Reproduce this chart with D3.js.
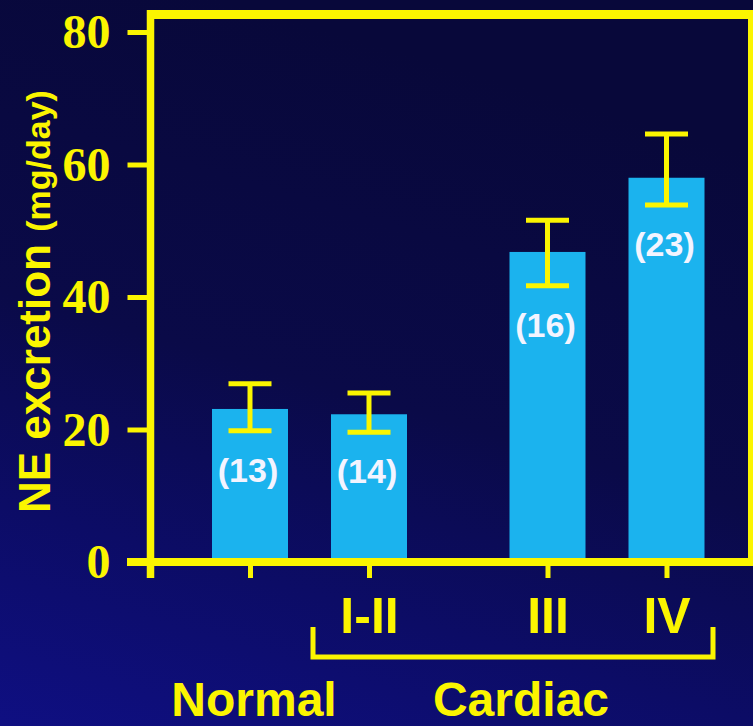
<!DOCTYPE html>
<html>
<head>
<meta charset="utf-8">
<script src="https://cdn.jsdelivr.net/npm/d3@7"></script>
<style>
  html, body { margin: 0; padding: 0; background: #0b0b45; }
  svg { display: block; }
</style>
</head>
<body>
<svg id="chart" width="753" height="726"></svg>
<script>
// Urinary norepinephrine excretion by group (mean with error range, n in brackets)
const categories = ["Normal", "I-II", "III", "IV"];
const tierLabels = ["", "I-II", "III", "IV"];
const groupNames = ["Normal", "Cardiac"];
const means   = [23.1, 22.3, 46.8, 58.0];
const errLow  = [19.8, 19.6, 41.7, 53.9];
const errHigh = [26.9, 25.5, 51.6, 64.6];
const counts  = [13, 14, 16, 23];
const yTicks  = [0, 20, 40, 60, 80];

const YELLOW = "#fbf500";
const BAR = "#1bb3ee";
const SANS = "'Liberation Sans', Arial, sans-serif";
const SERIF = "'Liberation Serif', 'Times New Roman', serif";

const svg = d3.select("#chart");
const W = 753, H = 726;

// backdrop: dark navy, turning a deeper blue toward the lower left
const defs = svg.append("defs");
const grad = defs.append("linearGradient").attr("id", "bg")
  .attr("x1", 0.3).attr("y1", 0).attr("x2", 0).attr("y2", 1);
[[0, "#08083a"], [0.45, "#0a0a48"], [0.72, "#0c0c66"], [1, "#0f0f82"]]
  .forEach(([o, c]) => grad.append("stop").attr("offset", o).attr("stop-color", c));
svg.append("rect").attr("width", W).attr("height", H).attr("fill", "url(#bg)");

// plot box edges
const plotLeft = 150.5, plotRight = 752, plotTop = 14.6, plotBase = 562;
const y = d3.scaleLinear().domain([0, 80]).range([plotBase, 32]);
// Cardiac classes III/IV sit a half slot further right
const slot = i => i + (i >= 2 ? 0.5 : 0);
const x = d3.scaleLinear().domain([0, 3.5]).range([250, 666.5]);
const barW = 76;

const data = categories.map((c, i) => ({
  c, i, mean: means[i], lo: errLow[i], hi: errHigh[i], n: counts[i], tier: tierLabels[i]
}));

// bars
svg.append("g").selectAll("rect").data(data).join("rect")
  .attr("x", d => x(slot(d.i)) - barW / 2)
  .attr("width", barW)
  .attr("y", d => y(d.mean))
  .attr("height", d => y(0) - y(d.mean))
  .attr("fill", BAR);

// error bars
const eg = svg.append("g").attr("stroke", YELLOW).attr("stroke-width", 5);
const capW = 43;
eg.selectAll("line.stem").data(data).join("line").attr("class", "stem")
  .attr("x1", d => x(slot(d.i))).attr("x2", d => x(slot(d.i)))
  .attr("y1", d => y(d.lo)).attr("y2", d => y(d.hi));
eg.selectAll("line.capHi").data(data).join("line").attr("class", "capHi")
  .attr("x1", d => x(slot(d.i)) - capW / 2).attr("x2", d => x(slot(d.i)) + capW / 2)
  .attr("y1", d => y(d.hi)).attr("y2", d => y(d.hi));
eg.selectAll("line.capLo").data(data).join("line").attr("class", "capLo")
  .attr("x1", d => x(slot(d.i)) - capW / 2).attr("x2", d => x(slot(d.i)) + capW / 2)
  .attr("y1", d => y(d.lo)).attr("y2", d => y(d.lo));

// sample sizes inside the bars
svg.append("g").selectAll("text").data(data).join("text")
  .attr("x", d => x(slot(d.i)) - 2)
  .attr("y", d => y(d.lo) + 51)
  .attr("text-anchor", "middle")
  .attr("font-family", SANS).attr("font-weight", "bold").attr("font-size", 34)
  .attr("fill", "#f3f4ff")
  .text(d => `(${d.n})`);

// frame: top and right edges
const frame = svg.append("g").attr("stroke", YELLOW).attr("fill", "none");
frame.append("line").attr("x1", plotLeft - 3.5).attr("x2", W).attr("y1", plotTop).attr("y2", plotTop).attr("stroke-width", 9);
frame.append("line").attr("x1", plotRight).attr("x2", plotRight).attr("y1", plotTop).attr("y2", plotBase).attr("stroke-width", 8);

// y axis
const yAxis = svg.append("g").attr("transform", `translate(${plotLeft},0)`)
  .call(d3.axisLeft(y).tickValues(yTicks).tickSize(23).tickPadding(17).tickFormat(d3.format("d")));
yAxis.select(".domain").remove();
yAxis.selectAll(".tick line").attr("stroke", YELLOW).attr("stroke-width", 5);
yAxis.selectAll(".tick text")
  .attr("fill", YELLOW).attr("font-family", SERIF).attr("font-weight", "bold")
  .attr("font-size", 48).attr("dy", "0.33em");

// x axis
const tickSlots = data.map(d => slot(d.i));
const xAxis = svg.append("g").attr("transform", `translate(0,${plotBase})`)
  .call(d3.axisBottom(x).tickValues(tickSlots).tickSize(16).tickPadding(0)
    .tickFormat((v, k) => tierLabels[k]));
xAxis.select(".domain").remove();
xAxis.selectAll(".tick line").attr("stroke", YELLOW).attr("stroke-width", 5);
xAxis.selectAll(".tick text")
  .attr("fill", YELLOW).attr("font-family", SANS).attr("font-weight", "bold")
  .attr("font-size", 50).attr("dy", null).attr("y", 71);

// axis lines
svg.append("line").attr("x1", 127).attr("x2", W).attr("y1", plotBase).attr("y2", plotBase)
  .attr("stroke", YELLOW).attr("stroke-width", 8);
svg.append("line").attr("x1", plotLeft).attr("x2", plotLeft).attr("y1", plotTop - 4.5).attr("y2", 578)
  .attr("stroke", YELLOW).attr("stroke-width", 7.5);

// bracket grouping the cardiac classes
const bx0 = 313, bx1 = 713, by0 = 627, by1 = 657;
svg.append("path")
  .attr("d", `M${bx0},${by0}V${by1}H${bx1}V${by0}`)
  .attr("fill", "none").attr("stroke", YELLOW).attr("stroke-width", 5);

// group names
svg.append("g").selectAll("text").data(groupNames).join("text")
  .attr("x", (g, k) => k === 0 ? x(0) + 4 : (bx0 + bx1) / 2 + 8)
  .attr("y", 716)
  .attr("text-anchor", "middle")
  .attr("font-family", SANS).attr("font-weight", "bold").attr("font-size", 48)
  .attr("fill", YELLOW)
  .text(g => g);

// y-axis title
const title = svg.append("text")
  .attr("transform", "translate(50,513) rotate(-90)")
  .attr("font-family", SANS).attr("font-weight", "bold")
  .attr("fill", YELLOW);
title.append("tspan").attr("font-size", 44).text("NE excretion ");
title.append("tspan").attr("font-size", 34).text("(mg/day)");
</script>
</body>
</html>
